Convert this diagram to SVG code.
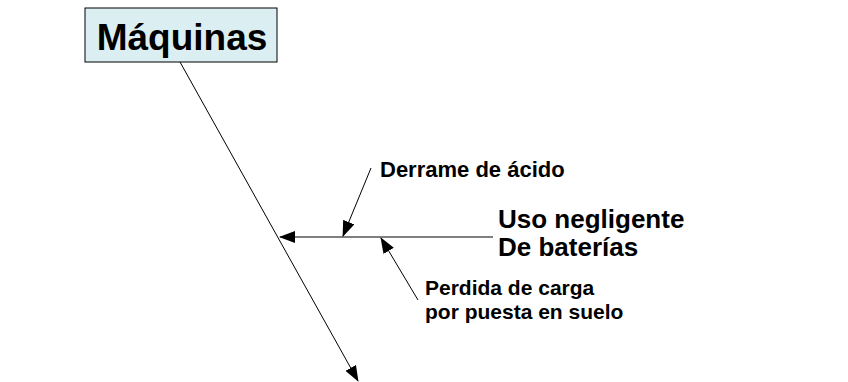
<svg xmlns="http://www.w3.org/2000/svg" width="848" height="382" viewBox="0 0 848 382">
<style>
.ln{stroke:#000;stroke-width:1;fill:none}
.t{font-family:"Liberation Sans",Arial,sans-serif;font-weight:bold;fill:#000}
</style>
<defs>
<marker id="ah" markerWidth="16" markerHeight="12" refX="15" refY="6" orient="auto" markerUnits="userSpaceOnUse">
<path d="M0,0 L16,6 L0,12 Z" fill="#000"/>
</marker>
</defs>
<rect width="848" height="382" fill="#fff"/>
<g id="connectors">
<line class="ln" x1="180" y1="62" x2="358" y2="381" marker-end="url(#ah)"/>
<line class="ln" x1="493" y1="237" x2="280" y2="237" marker-end="url(#ah)"/>
<line class="ln" x1="371" y1="168" x2="343" y2="236" marker-end="url(#ah)"/>
<line class="ln" x1="418" y1="300" x2="381" y2="238" marker-end="url(#ah)"/>
</g>
<g id="maquinas">
<rect x="85" y="8" width="192" height="54" fill="#dbeff3" stroke="#000" stroke-width="1"/>
<text class="t" x="182" y="50" font-size="37" text-anchor="middle">Máquinas</text>
</g>
<g id="uso">
<text class="t" x="498" y="228" font-size="26">Uso negligente</text>
<text class="t" x="498" y="256" font-size="26">De baterías</text>
</g>
<g id="derrame">
<text class="t" x="380" y="177" font-size="22">Derrame de ácido</text>
</g>
<g id="perdida">
<text class="t" x="425" y="295" font-size="21">Perdida de carga</text>
<text class="t" x="425" y="319" font-size="21">por puesta en suelo</text>
</g>
</svg>
